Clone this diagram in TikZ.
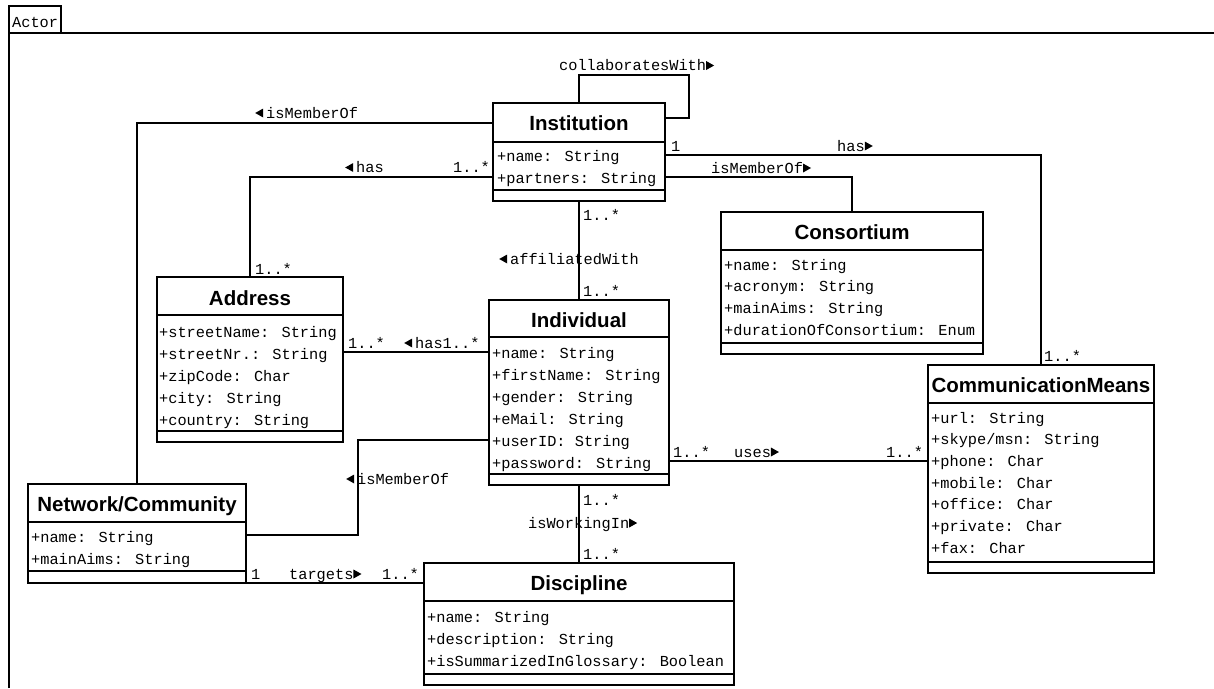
\documentclass[tikz,border=0pt]{standalone}
\usepackage{fontspec}
\newfontfamily\monof{Liberation Mono}
\newfontfamily\headf{Liberation Sans}
\usetikzlibrary{calc}
% small filled direction arrows used in association names
\newcommand\rtri{\tikz[x=1pt,y=1pt,baseline=0pt]\fill (0,0.5)--(8,5)--(0,9.5)--cycle;}
\newcommand\ltri{\tikz[x=1pt,y=1pt,baseline=0pt]\fill (0,5)--(8,0.5)--(8,9.5)--cycle;}
\begin{document}
\begin{tikzpicture}[x=1pt,y=-1pt,
  box/.style={draw, line width=2.7pt, inner sep=0pt, outer sep=0pt, anchor=north west},
  sep/.style={line width=2.5pt},
  assoc/.style={line width=2.4pt},
  frameline/.style={line width=2.7pt},
  head/.style={anchor=base, inner sep=0pt, font=\headf\bfseries\fontsize{20.5}{24}\selectfont},
  attr/.style={anchor=base west, inner sep=0pt, font=\monof\fontsize{15.3}{18}\selectfont},
  lbl/.style={anchor=base west, inner sep=0pt, font=\monof\fontsize{15.3}{18}\selectfont},
]
\useasboundingbox[fill=white] (0,0) rectangle (1214,688);

% package frame with its tab
\draw[frameline] (9,688) -- (9,6) -- (61,6) -- (61,33);
\draw[frameline] (9,33) -- (1214,33);
\node[lbl] (actor) at (12,27.5) {Actor};

% ---------- classes ----------
% Institution
\node[box, minimum width=172pt, minimum height=98pt] (inst) at (493,103) {};
\draw[sep] (493,142) -- (665,142);
\draw[sep] (493,190) -- (665,190);
\node[head] (inst-t) at (579,130) {Institution};
\foreach \t [count=\i] in {+name: String, +partners: String}
  \node[attr] (inst-a\i) at (497,{161+22*(\i-1)}) {\t};

% Address
\node[box, minimum width=186pt, minimum height=165pt] (addr) at (157,277) {};
\draw[sep] (157,315) -- (343,315);
\draw[sep] (157,431) -- (343,431);
\node[head] (addr-t) at (250,305) {Address};
\foreach \t [count=\i] in {+streetName: String, +streetNr.: String, +zipCode: Char, +city: String, +country: String}
  \node[attr] (addr-a\i) at (159,{337+22*(\i-1)}) {\t};

% Individual
\node[box, minimum width=180pt, minimum height=185pt] (indiv) at (489,300) {};
\draw[sep] (489,337) -- (669,337);
\draw[sep] (489,474) -- (669,474);
\node[head] (indiv-t) at (579,327) {Individual};
\foreach \t [count=\i] in {+name: String, +firstName: String, +gender: String, +eMail: String, +userID: String, +password: String}
  \node[attr] (indiv-a\i) at (492,{358+22*(\i-1)}) {\t};

% Consortium
\node[box, minimum width=262pt, minimum height=142pt] (cons) at (721,212) {};
\draw[sep] (721,250) -- (983,250);
\draw[sep] (721,343) -- (983,343);
\node[head] (cons-t) at (852,239.5) {Consortium};
\foreach \t [count=\i] in {+name: String, +acronym: String, +mainAims: String, +durationOfConsortium: Enum}
  \node[attr] (cons-a\i) at (724,{270+21.8*(\i-1)}) {\t};

% CommunicationMeans
\node[box, minimum width=226pt, minimum height=208pt] (cm) at (928,365) {};
\draw[sep] (928,403) -- (1154,403);
\draw[sep] (928,562) -- (1154,562);
\node[head] (cm-t) at (1041,392.5) {CommunicationMeans};
\foreach \t [count=\i] in {+url: String, +skype/msn: String, +phone: Char, +mobile: Char, +office: Char, +private: Char, +fax: Char}
  \node[attr] (cm-a\i) at (931,{423+21.7*(\i-1)}) {\t};

% Network/Community
\node[box, minimum width=218pt, minimum height=99pt] (net) at (28,484) {};
\draw[sep] (28,522) -- (246,522);
\draw[sep] (28,571) -- (246,571);
\node[head] (net-t) at (137,511.5) {Network/Community};
\foreach \t [count=\i] in {+name: String, +mainAims: String}
  \node[attr] (net-a\i) at (31,{542+22*(\i-1)}) {\t};

% Discipline
\node[box, minimum width=310pt, minimum height=122pt] (disc) at (424,563) {};
\draw[sep] (424,601) -- (734,601);
\draw[sep] (424,674) -- (734,674);
\node[head] (disc-t) at (579,590.5) {Discipline};
\foreach \t [count=\i] in {+name: String, +description: String, +isSummarizedInGlossary: Boolean}
  \node[attr] (disc-a\i) at (427,{622+22*(\i-1)}) {\t};

% ---------- associations ----------
\draw[assoc] ($(inst.north west)+(0,20)$) -| (net.north);
\draw[assoc] ($(inst.north west)+(0,74)$) -| (addr.north);
\draw[assoc] (inst.north) -- ++(0,-28) -- ++(110,0) |- ($(inst.north east)+(0,15)$);
\draw[assoc] ($(inst.north east)+(0,52)$) -| (cm.north);
\draw[assoc] ($(inst.north east)+(0,74)$) -| (cons.north);
\draw[assoc] (inst.south) -- (indiv.north);
\draw[assoc] ($(addr.north east)+(0,75)$) -- ($(indiv.north west)+(0,52)$);
\draw[assoc] ($(net.north east)+(0,51)$) -- ++(112,0) |- ($(indiv.north west)+(0,140)$);
\draw[assoc] ($(indiv.north east)+(0,161)$) -- ($(cm.north west)+(0,96)$);
\draw[assoc] (indiv.south) -- (disc.north);
\draw[assoc] (net.south east) -- (net.south east -| disc.west);

% ---------- association names and multiplicities ----------
\node[lbl] (l-mem1) at (255,118) {\ltri\hspace{3pt}isMemberOf};
\node[lbl] (l-has1) at (345,172.5) {\ltri\hspace{3pt}has};
\node[lbl] (m-has1i) at (453,172) {1..*};
\node[lbl] (m-has1a) at (255,274) {1..*};
\node[lbl] (l-collab) at (559,70.5) {collaboratesWith\rtri};
\node[lbl] (m-cm1) at (671,151) {1};
\node[lbl] (l-has2) at (837,151) {has\rtri};
\node[lbl] (l-mem2) at (711,173) {isMemberOf\rtri};
\node[lbl] (m-aff1) at (583,220) {1..*};
\node[lbl] (l-aff) at (499,264) {\ltri\hspace{3pt}affiliatedWith};
\node[lbl] (m-aff2) at (583,296) {1..*};
\node[lbl] (m-cm2) at (1044,361) {1..*};
\node[lbl] (m-has3a) at (348,348) {1..*};
\node[lbl] (l-has3) at (404,348) {\ltri\hspace{3pt}has1..*};
\node[lbl] (l-mem3) at (346,484) {\ltri\hspace{3pt}isMemberOf};
\node[lbl] (m-uses1) at (673,457) {1..*};
\node[lbl] (l-uses) at (734,457) {uses\rtri};
\node[lbl] (m-uses2) at (886,457) {1..*};
\node[lbl] (m-work1) at (583,505) {1..*};
\node[lbl] (l-work) at (528,528) {isWorkingIn\rtri};
\node[lbl] (m-work2) at (583,559) {1..*};
\node[lbl] (m-tg1) at (251,579) {1};
\node[lbl] (l-tg) at (289,579) {targets\rtri};
\node[lbl] (m-tg2) at (382,579) {1..*};
\end{tikzpicture}
\end{document}
